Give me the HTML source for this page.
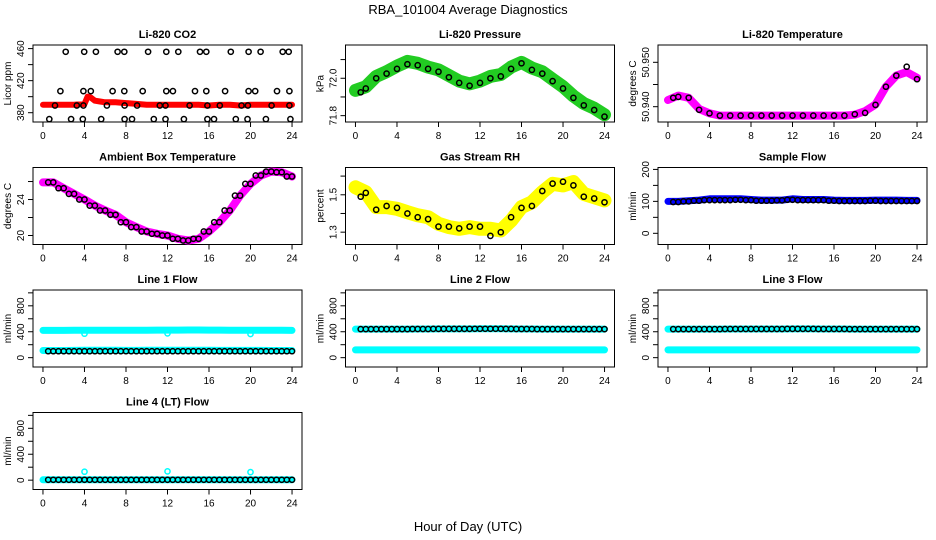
<!DOCTYPE html>
<html><head><meta charset="utf-8">
<style>
html,body{margin:0;padding:0;background:#fff;}
svg{display:block;font-family:"Liberation Sans",sans-serif;}
</style></head>
<body>
<svg id="chart" width="936" height="540" viewBox="0 0 936 540">
<text x="468" y="14" text-anchor="middle" font-size="13">RBA_101004  Average Diagnostics</text>
<text x="468" y="531" text-anchor="middle" font-size="13">Hour of Day (UTC)</text>
</svg>
<script>
// ---- data ----
const hours = [0,1,2,3,4,5,6,7,8,9,10,11,12,13,14,15,16,17,18,19,20,21,22,23,24];
const meanHours = [0.5,1,2,3,4,5,6,7,8,9,10,11,12,13,14,15,16,17,18,19,20,21,22,23,24];
// CO2
const co2RedHours = [0,1,2,3,4,4.3,4.6,5,5.5,6,7,8,9,10,11,12,13,14,15,16,17,18,19,20,21,22,23,24];
const co2Red = [390,390,390,390,391,400,399,395,394,393,393,392,391,390,390,390,390,390,390,389,390,390,389,390,390,390,390,390];
const co2HighX = [2.19,3.97,5.1,7.19,7.84,10.13,11.88,13.04,15.13,15.74,18.1,19.81,20.97,23.1,23.68];
const co2MidX = [1.68,3.9,4.61,6.71,7.84,9.61,11.88,12.52,14.65,15.74,17.55,19.81,20.45,22.55,23.75];
const co2LowX = [1.16,3.26,3.9,6.16,7.87,9.07,11.26,11.81,14.13,15.84,17.04,19.13,19.75,22.03,23.75];
const co2BotX = [0.61,2.71,3.84,5.61,7.87,8.58,10.68,11.81,13.58,15.84,16.48,18.58,19.71,21.48,23.84];
const co2Levels = [456,407,389,372];
// Pressure
const pressBand = [71.935,71.955,72.01,72.035,72.065,72.09,72.08,72.06,72.045,72.015,71.985,71.97,71.985,72.01,72.02,72.06,72.085,72.055,72.035,71.995,71.955,71.905,71.865,71.84,71.805];
const pressMean = [71.925,71.945,72.0,72.025,72.05,72.075,72.07,72.05,72.035,72.005,71.975,71.96,71.975,72.0,72.01,72.05,72.08,72.045,72.025,71.985,71.945,71.895,71.855,71.83,71.795];
// Li-820 temperature
const tempBand = [50.9415,50.9425,50.9420,50.9395,50.9385,50.9380,50.9380,50.9380,50.9380,50.9380,50.9380,50.9380,50.9380,50.9380,50.9380,50.9380,50.9380,50.9380,50.9382,50.9390,50.9405,50.9445,50.9470,50.9478,50.9465];
const tempMean = [50.9420,50.9422,50.9420,50.9393,50.9385,50.9380,50.9380,50.9380,50.9380,50.9380,50.9380,50.9380,50.9380,50.9380,50.9380,50.9380,50.9380,50.9380,50.9383,50.9386,50.9404,50.9445,50.9470,50.9490,50.9462];
// Ambient box temperature
const ambBand = [25.9,25.9,25.26,24.63,24.0,23.33,22.78,22.3,21.48,20.93,20.44,20.19,20.0,19.63,19.44,19.63,20.44,21.48,22.78,24.44,25.74,26.67,27.1,27.04,26.56];
// Gas RH
const rhBand = [1.54,1.514,1.434,1.434,1.425,1.407,1.39,1.38,1.345,1.327,1.318,1.327,1.318,1.318,1.309,1.362,1.434,1.46,1.514,1.559,1.55,1.568,1.505,1.487,1.47];
const rhMean = [1.49,1.51,1.42,1.44,1.43,1.40,1.38,1.37,1.33,1.33,1.32,1.33,1.33,1.28,1.30,1.38,1.43,1.44,1.52,1.56,1.57,1.55,1.49,1.48,1.46];
// Flows
const sampleBand = [100,100,102,104,108,108,108,108,106,104,104,104,108,106,106,106,104,103,103,103,104,104,104,103,103];
const sampleMean = [97,98,100,102,104,104,104,105,104,102,102,103,105,104,104,104,102,101,101,101,102,101,101,101,101];
const line1Hi = [420,420,421,422,423,423,424,424,423,423,424,425,426,426,427,427,426,425,424,424,423,423,422,422,421];
const line1Lo = [110,110,111,112,113,113,113,113,112,112,113,113,114,114,114,114,113,112,112,112,112,112,111,111,111];
const line1Mean = [100,100,100,100,100,100,100,100,100,100,100,100,100,100,100,100,100,100,100,100,100,100,100,100,100];
const line2Hi = [440,440,440,440,440,441,442,443,444,444,444,444,445,445,445,444,443,442,441,440,440,440,440,440,440];
const line2Lo = [120,120,120,120,120,120,120,120,120,120,120,120,120,120,120,120,120,120,120,120,120,120,120,120,120];
const line2Mean = [440,440,440,440,440,441,442,443,444,444,444,444,445,445,445,444,443,442,441,440,440,440,440,440,440];
const line3Hi = [440,440,440,440,440,441,442,443,443,443,443,443,444,444,444,443,442,442,441,441,441,441,441,441,441];
const line3Lo = [120,120,120,120,120,120,120,120,120,120,120,120,120,120,120,120,120,120,120,120,120,120,120,120,120];
const line3Mean = [440,440,440,440,440,441,442,443,443,443,443,443,444,444,444,443,442,442,441,441,441,441,441,441,441];
const line4Band = [5,5,5,5,5,5,5,5,5,5,5,5,5,5,5,5,5,5,5,5,5,5,5,5,5];
const line4Mean = [5,5,5,5,5,5,5,5,5,5,5,5,5,5,5,5,5,5,5,5,5,5,5,5,5];
const flowOutlierX = [4,12,20];
const line1OutlierY = [370,375,365];
const line4OutlierY = [130,135,125];
// tick label arrays
const xTicks = [0,4,8,12,16,20,24];
const co2Ticks = [380,400,420,440,460], co2Labels = ["380","","420","","460"];
const pressTicks = [71.8,71.9,72.0,72.1], pressLabels = ["71.8","","72.0",""];
const tempTicks = [50.940,50.945,50.950], tempLabels = ["50.940","","50.950"];
const ambTicks = [20,22,24,26], ambLabels = ["20","","24",""];
const rhTicks = [1.3,1.4,1.5,1.6], rhLabels = ["1.3","","1.5",""];
const sampleTicks = [0,50,100,150,200], sampleLabels = ["0","","100","","200"];
const flowTicks = [0,200,400,600,800,1000], flowLabels = ["0","","400","","800",""];

// ---- layout ----
const NS = "http://www.w3.org/2000/svg";
const svg = document.getElementById('chart');
const colL = [33,345.5,658], boxW = 269;
const rowT = [45,167.5,290,412.5], boxH = 77;
const X0 = -0.96, X1 = 24.96;

function mk(tag, attrs, parent){
  const e = document.createElementNS(NS, tag);
  for (const k in attrs) e.setAttribute(k, attrs[k]);
  (parent||svg).appendChild(e);
  return e;
}

function panel(slug, col, row, title, ylab, y0, y1, ticks, labels){
  const g = mk('g', {});
  
  
  const L = colL[col], T = rowT[row];
  const sx = v => L + (v - X0) / (X1 - X0) * boxW;
  const sy = v => T + boxH - (v - y0) / (y1 - y0) * boxH;
  const t = mk('text', {x: L + boxW/2, y: T - 7, 'text-anchor':'middle', 'font-size':11, 'font-weight':'bold'}, g);
  t.textContent = title;
  
  
  const yl = mk('text', {transform:`translate(${L-22},${T+boxH/2}) rotate(-90)`, 'text-anchor':'middle', 'font-size':10}, g);
  yl.textContent = ylab;
  
  
  const ax = mk('g', {stroke:'#000', 'stroke-width':1}, g);
  
  
  mk('line', {x1:sx(0), x2:sx(24), y1:T+boxH, y2:T+boxH}, ax);
  xTicks.forEach(v => {
    mk('line', {x1:sx(v), x2:sx(v), y1:T+boxH, y2:T+boxH+5}, ax);
    const tl = mk('text', {x:sx(v), y:T+boxH+17, 'text-anchor':'middle', 'font-size':10, stroke:'none'}, ax);
    tl.textContent = v;
  });
  const ay = mk('g', {stroke:'#000', 'stroke-width':1}, g);
  
  
  mk('line', {x1:L, x2:L, y1:sy(ticks[0]), y2:sy(ticks[ticks.length-1])}, ay);
  ticks.forEach((v,i) => {
    mk('line', {x1:L-5, x2:L, y1:sy(v), y2:sy(v)}, ay);
    if (labels[i]) {
      const tl = mk('text', {transform:`translate(${L-9},${sy(v)}) rotate(-90)`, 'text-anchor':'middle', 'font-size':10, stroke:'none'}, ay);
      tl.textContent = labels[i];
    }
  });
  const box = mk('rect', {x:L, y:T, width:boxW, height:boxH, fill:'none', stroke:'#000', 'stroke-width':1}, g);
  
  
  const clip = 'clip-' + slug;
  const cp = mk('clipPath', {id: clip}, g);
  mk('rect', {x:L, y:T, width:boxW, height:boxH}, cp);
  const plot = mk('g', {'clip-path':`url(#${clip})`}, g);
  return {sx, sy, plot, slug};
}

function band(p, xs, ys, color, w, name){
  const d = xs.map((x,i) => (i ? 'L' : 'M') + p.sx(x).toFixed(1) + ',' + p.sy(ys[i]).toFixed(1)).join('');
  const e = mk('path', {d, fill:'none', stroke:color, 'stroke-width':w, 'stroke-linejoin':'round', 'stroke-linecap':'round'}, p.plot);
  
  
}
function pts(p, xs, ys, color, name, r){
  const g = mk('g', {fill:'none', stroke:color, 'stroke-width':1.5}, p.plot);
  
  
  xs.forEach((x,i) => {
    mk('circle', {cx:p.sx(x).toFixed(1), cy:p.sy(ys[i]).toFixed(1), r:r||2.6}, g);
  });
}
function halfPts(p, ys, color, name){
  const xs = [];
  for (let h = 0.5; h <= 24; h += 0.5) xs.push(h);
  const vs = xs.map(h => ys[Math.min(24, Math.round(h))]);
  pts(p, xs, vs, color, name);
}

// Li-820 CO2
let p = panel('co2', 0, 0, 'Li-820 CO2', 'Licor ppm', 368.4, 464.5, co2Ticks, co2Labels);
band(p, co2RedHours, co2Red, '#ff0000', 6, 'red-band');
[co2HighX, co2MidX, co2LowX, co2BotX].forEach((xs, k) => pts(p, xs, xs.map(() => co2Levels[k]), '#000', 'points-' + co2Levels[k]));
// Pressure
p = panel('pressure', 1, 0, 'Li-820 Pressure', 'kPa', 71.766, 72.178, pressTicks, pressLabels);
band(p, hours, pressBand, '#22cc22', 13, 'green-band');
pts(p, meanHours, pressMean, '#000', 'hourly-means');
// Li-820 Temperature
p = panel('li820-temp', 2, 0, 'Li-820 Temperature', 'degrees C', 50.93655, 50.9539, tempTicks, tempLabels);
band(p, hours, tempBand, '#ff00ff', 8, 'magenta-band');
pts(p, meanHours, tempMean, '#000', 'hourly-means');
// Ambient
p = panel('ambient-temp', 0, 1, 'Ambient Box Temperature', 'degrees C', 19.0, 27.56, ambTicks, ambLabels);
band(p, hours, ambBand, '#ff00ff', 8, 'magenta-band');
halfPts(p, ambBand, '#000', 'half-hour-means');
// Gas RH
p = panel('gas-rh', 1, 1, 'Gas Stream RH', 'percent', 1.234, 1.646, rhTicks, rhLabels);
band(p, hours, rhBand, '#ffff00', 14, 'yellow-band');
pts(p, meanHours, rhMean, '#000', 'hourly-means');
// Sample flow
p = panel('sample-flow', 2, 1, 'Sample Flow', 'ml/min', -35, 206, sampleTicks, sampleLabels);
band(p, hours, sampleBand, '#0000ff', 7, 'blue-band');
halfPts(p, sampleMean, '#000', 'half-hour-means');
// Line flows
const fy0 = -144, fy1 = 1044;
p = panel('line1-flow', 0, 2, 'Line 1 Flow', 'ml/min', fy0, fy1, flowTicks, flowLabels);
band(p, hours, line1Hi, '#00ffff', 7, 'cyan-high-band');
band(p, hours, line1Lo, '#00ffff', 7, 'cyan-low-band');
pts(p, flowOutlierX, line1OutlierY, '#00ffff', 'cyan-outliers');
halfPts(p, line1Mean, '#000', 'half-hour-means');
p = panel('line2-flow', 1, 2, 'Line 2 Flow', 'ml/min', fy0, fy1, flowTicks, flowLabels);
band(p, hours, line2Hi, '#00ffff', 7, 'cyan-high-band');
band(p, hours, line2Lo, '#00ffff', 7, 'cyan-low-band');
halfPts(p, line2Mean, '#000', 'half-hour-means');
p = panel('line3-flow', 2, 2, 'Line 3 Flow', 'ml/min', fy0, fy1, flowTicks, flowLabels);
band(p, hours, line3Hi, '#00ffff', 7, 'cyan-high-band');
band(p, hours, line3Lo, '#00ffff', 7, 'cyan-low-band');
halfPts(p, line3Mean, '#000', 'half-hour-means');
p = panel('line4-flow', 0, 3, 'Line 4 (LT) Flow', 'ml/min', fy0, fy1, flowTicks, flowLabels);
band(p, hours, line4Band, '#00ffff', 7, 'cyan-band');
pts(p, flowOutlierX, line4OutlierY, '#00ffff', 'cyan-outliers');
halfPts(p, line4Mean, '#000', 'half-hour-means');
</script>
</body></html>
